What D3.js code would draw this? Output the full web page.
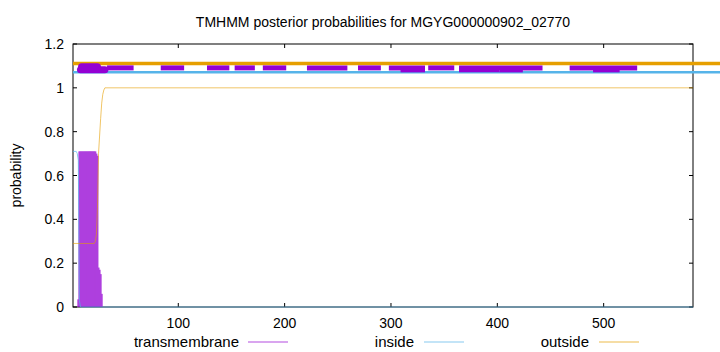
<!DOCTYPE html>
<html>
<head>
<meta charset="utf-8">
<script src="https://cdn.jsdelivr.net/npm/d3@7"></script>
<style>
  body { margin: 0; background: #fff; }
  svg text { font-family: "Liberation Sans", Arial, sans-serif; font-size: 14px; fill: #000; }
  svg .legend text { font-size: 15px; }
</style>
</head>
<body>
<svg id="chart" width="720" height="352"></svg>
<script>
// sequence positions and posterior probabilities
var seqLength = 584;
var xTicks = [100, 200, 300, 400, 500];
var yTicks = [0, 0.2, 0.4, 0.6, 0.8, 1, 1.2];

// transmembrane probability, drawn as impulses [position, prob]
var tmProb = [
	[6, 0.035], [7, 0.71], [8, 0.71], [9, 0.71], [10, 0.71], [11, 0.71], [12, 0.71],
	[13, 0.71], [14, 0.71], [15, 0.71], [16, 0.71], [17, 0.71], [18, 0.71], [19, 0.71],
	[20, 0.71], [21, 0.71], [22, 0.71], [23, 0.70], [24, 0.69], [25, 0.18], [26, 0.17],
	[27, 0.15], [28, 0.06]
];
// inside probability [position, prob]
var insideProb = [
	[1, 0.71], [2, 0.71], [3, 0.71], [4, 0.71], [5, 0.70], [6, 0.67], [7, 0.03],
	[8, 0], [584, 0]
];
// outside probability [position, prob]
var outsideProb = [
	[1, 0.29], [21, 0.29], [22, 0.30], [23, 0.33], [24, 0.45], [25, 0.70], [26, 0.78],
	[27, 0.86], [28, 0.93], [29, 0.97], [30, 0.99], [31, 1.0], [584, 1.0]
];

// topology bars along the top [start, end]
var outsideBar = [[1, 610]];
var insideBar = [[1, 610]];
var tmBar = [
	[33, 58], [83.5, 105.5], [127, 148], [153, 172], [179.5, 201.5], [221, 259],
	[269, 290.5], [298, 332], [335, 359.5], [364, 442.5], [468, 531.5]
];
var tmBarLow = [[309, 332], [364, 402], [402, 424], [490, 515]];
var tmBlob = [[8, 31], [9, 24]];

var legendItems = ["transmembrane", "inside", "outside"];
var colors = { tm: "#9400D3", inside: "#56B4E9", outside: "#E69F00" };

var svg = d3.select("#chart"),
	margin = { top: 44, right: 27, bottom: 45, left: 73 },
	width = 720 - margin.left - margin.right,
	height = 352 - margin.top - margin.bottom;

var x = d3.scaleLinear().domain([1, seqLength]).range([margin.left, margin.left + width]);
var y = d3.scaleLinear().domain([0, 1.2]).range([margin.top + height, margin.top]);

// title
svg.append("text")
	.attr("x", margin.left + width / 2)
	.attr("y", 27)
	.attr("text-anchor", "middle")
	.text("TMHMM posterior probabilities for MGYG000000902_02770");

// y label
svg.append("text")
	.attr("transform", "translate(21," + (margin.top + height / 2) + ") rotate(-90)")
	.attr("text-anchor", "middle")
	.text("probability");

// axes (ticks inward, mirrored)
var tickLen = 4;
var axes = svg.append("g").attr("stroke", "#000").attr("stroke-width", 1);
xTicks.forEach(function (t) {
	axes.append("line").attr("x1", x(t)).attr("x2", x(t))
		.attr("y1", y(0)).attr("y2", y(0) - tickLen);
	axes.append("line").attr("x1", x(t)).attr("x2", x(t))
		.attr("y1", y(1.2)).attr("y2", y(1.2) + tickLen);
});
yTicks.forEach(function (t) {
	axes.append("line").attr("x1", x(1)).attr("x2", x(1) + tickLen)
		.attr("y1", y(t)).attr("y2", y(t));
	axes.append("line").attr("x1", x(seqLength)).attr("x2", x(seqLength) - tickLen)
		.attr("y1", y(t)).attr("y2", y(t));
});
axes.append("rect")
	.attr("x", x(1)).attr("y", y(1.2))
	.attr("width", x(seqLength) - x(1)).attr("height", y(0) - y(1.2))
	.attr("fill", "none");

svg.selectAll(".xlab").data(xTicks).enter().append("text")
	.attr("x", function (d) { return x(d); })
	.attr("y", y(0) + 21)
	.attr("text-anchor", "middle")
	.text(function (d) { return d; });

svg.selectAll(".ylab").data(yTicks).enter().append("text")
	.attr("x", x(1) - 9)
	.attr("y", function (d) { return y(d) + 5; })
	.attr("text-anchor", "end")
	.text(function (d) { return d3.format("~g")(d); });

// TM impulses
svg.append("g").attr("opacity", 0.75)
	.selectAll("line").data(tmProb).enter().append("line")
	.attr("x1", function (d) { return x(d[0]); })
	.attr("x2", function (d) { return x(d[0]); })
	.attr("y1", y(0))
	.attr("y2", function (d) { return y(d[1]); })
	.attr("stroke", colors.tm)
	.attr("stroke-width", 2);

var line = d3.line()
	.x(function (d) { return x(d[0]); })
	.y(function (d) { return y(d[1]); });

svg.append("path").datum(insideProb)
	.attr("d", line).attr("fill", "none")
	.attr("stroke", colors.inside).attr("stroke-width", 1).attr("opacity", 0.7);

svg.append("path").datum(outsideProb)
	.attr("d", line).attr("fill", "none")
	.attr("stroke", colors.outside).attr("stroke-width", 1).attr("opacity", 0.6);

// topology bars
function bars(data, level, color, w, cap) {
	svg.append("g").selectAll("line").data(data).enter().append("line")
		.attr("x1", function (d) { return x(d[0]); })
		.attr("x2", function (d) { return Math.min(x(d[1]), 720); })
		.attr("y1", y(level)).attr("y2", y(level))
		.attr("stroke", color)
		.attr("stroke-width", w)
		.attr("stroke-linecap", cap || "butt");
}
bars(outsideBar, 1.111, colors.outside, 3.7);
bars(insideBar, 1.071, colors.inside, 2.5);
bars(tmBarLow, 1.082, colors.tm, 5);
bars(tmBar, 1.091, colors.tm, 5);
bars(tmBlob.slice(0, 1), 1.083, colors.tm, 7, "round");
bars(tmBlob.slice(1), 1.096, colors.tm, 7, "round");

// legend
var legendPos = [{ tx: 239, lx: 248 }, { tx: 414, lx: 424 }, { tx: 589, lx: 599 }];
var legendColors = [colors.tm, colors.inside, colors.outside];
var legend = svg.selectAll(".legend").data(legendItems).enter().append("g")
	.attr("class", "legend");
legend.append("text")
	.attr("x", function (d, i) { return legendPos[i].tx; })
	.attr("y", 347)
	.attr("text-anchor", "end")
	.text(function (d) { return d; });
legend.append("line")
	.attr("x1", function (d, i) { return legendPos[i].lx; })
	.attr("x2", function (d, i) { return legendPos[i].lx + 40; })
	.attr("y1", 342).attr("y2", 342)
	.attr("stroke", function (d, i) { return legendColors[i]; })
	.attr("stroke-width", 1)
	.attr("opacity", 0.7);
</script>
</body>
</html>
